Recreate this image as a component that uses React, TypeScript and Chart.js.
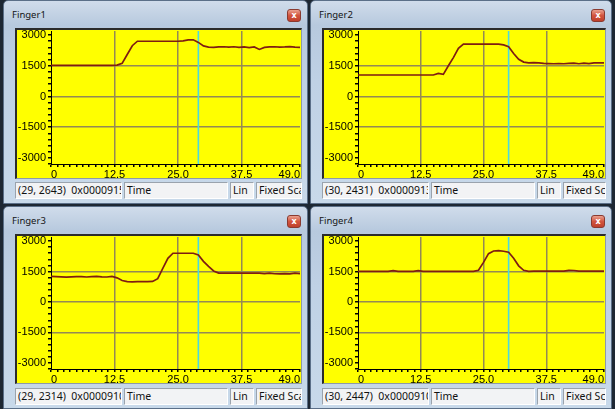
import React, { useEffect, useRef } from "react";
import { Chart, registerables } from "chart.js";
Chart.register(...registerables);

// ---------------- data ----------------
const times = [0, 1, 2, 3, 4, 5, 6, 7, 8, 9, 10, 11, 12, 13, 14, 15, 16, 17, 18, 19, 20, 21, 22, 23, 24, 25, 26, 27, 28, 29, 30, 31, 32, 33, 34, 35, 36, 37, 38, 39, 40, 41, 42, 43, 44, 45, 46, 47, 48, 49];

const finger1 = [1520, 1520, 1520, 1520, 1520, 1520, 1520, 1520, 1520, 1520, 1520, 1520, 1520, 1530, 1620, 2050, 2480, 2700, 2700, 2700, 2700, 2700, 2700, 2700, 2700, 2700, 2720, 2770, 2770, 2643, 2470, 2410, 2400, 2420, 2430, 2410, 2430, 2400, 2420, 2390, 2420, 2300, 2400, 2420, 2430, 2410, 2420, 2440, 2410, 2400];
const finger2 = [1050, 1050, 1050, 1050, 1050, 1050, 1050, 1050, 1050, 1050, 1050, 1050, 1050, 1050, 1050, 1050, 1130, 1080, 1500, 1900, 2350, 2560, 2560, 2560, 2560, 2560, 2560, 2560, 2560, 2520, 2431, 2100, 1820, 1680, 1640, 1650, 1640, 1620, 1610, 1600, 1610, 1600, 1620, 1630, 1600, 1630, 1610, 1640, 1640, 1640];
const finger3 = [1260, 1250, 1240, 1220, 1240, 1250, 1250, 1230, 1250, 1260, 1240, 1230, 1260, 1190, 1060, 1000, 990, 1000, 1000, 1000, 1010, 1150, 1650, 2150, 2400, 2400, 2400, 2400, 2400, 2314, 2000, 1750, 1530, 1420, 1420, 1420, 1420, 1420, 1420, 1420, 1420, 1420, 1400, 1420, 1390, 1380, 1400, 1380, 1420, 1400];
const finger4 = [1510, 1510, 1510, 1510, 1510, 1510, 1510, 1545, 1510, 1510, 1510, 1510, 1540, 1510, 1510, 1510, 1510, 1510, 1510, 1510, 1510, 1510, 1510, 1510, 1560, 1950, 2380, 2510, 2530, 2500, 2447, 2150, 1780, 1560, 1510, 1520, 1520, 1520, 1520, 1520, 1520, 1520, 1560, 1550, 1520, 1520, 1520, 1520, 1520, 1520];

const titles = ["Finger1", "Finger2", "Finger3", "Finger4"];
const cursorTimes = [29, 30, 29, 30];
const readouts = ["(29, 2643)", "(30, 2431)", "(29, 2314)", "(30, 2447)"];
const addresses = ["0x0000915C", "0x0000913A", "0x0000910C", "0x0000910C"];
const xTickLabels = [0, 12.5, 25, 37.5, 49];
const yTickLabels = [3000, 1500, 0, -1500, -3000];
const xGridValues = [12.5, 25, 37.5];
const yGridValues = [1500, 0, -1500];
const xMin = 0;
const xMax = 49;
const yMin = -3300;
const yMax = 3200;
const xStep = 1.25;
const yStep = 100;
const yMinorTick = 300;

const allSeries = [finger1, finger2, finger3, finger4];

const GRID = "#948a55";
const LINE = "#7e1d12";
const CURSOR = "#4ad8e2";
const near = (a: number, b: number) => Math.abs(a - b) < 1e-6;

type PanelProps = {
  idx: number;
  x: number;
  y: number;
  w: number;
  h: number;
  boxH: number;
};

function Panel({ idx, x, y, w, h, boxH }: PanelProps) {
  const ref = useRef<HTMLCanvasElement>(null);
  const boxL = 11;
  const boxT = 27;
  const boxW = w - 18;
  const cw = boxW - 3;
  const ch = boxH - 3;

  useEffect(() => {
    const series = allSeries[idx];
    const cur = cursorTimes[idx];
    const font = { family: "'Liberation Sans', Arial, sans-serif", size: 11 };
    const chart = new Chart(ref.current as HTMLCanvasElement, {
      type: "line",
      data: {
        datasets: [
          {
            data: times.map((t, i) => ({ x: t, y: series[i] })),
            borderColor: LINE,
            borderWidth: 1.7,
            pointRadius: 0,
            tension: 0,
          },
          {
            data: [
              { x: cur, y: yMin },
              { x: cur, y: yMax },
            ],
            borderColor: CURSOR,
            borderWidth: 1.6,
            pointRadius: 0,
          },
        ],
      },
      options: {
        animation: false,
        responsive: false,
        maintainAspectRatio: false,
        events: [],
        layout: { padding: { top: 1, right: 1, left: 0, bottom: 0 } },
        plugins: { legend: { display: false }, tooltip: { enabled: false } },
        scales: {
          x: {
            type: "linear",
            min: xMin,
            max: xMax,
            afterFit: (s: any) => {
              s.height = 14;
              s.paddingLeft = 0;
              s.paddingRight = 0;
            },
            ticks: {
              stepSize: xStep,
              autoSkip: false,
              maxRotation: 0,
              minRotation: 0,
              align: "inner",
              padding: 1,
              color: "#000",
              font,
              callback: (v: any) => {
                const n = Number(v);
                const m = xTickLabels.find((t) => near(t, n));
                if (m === undefined) return "";
                return m === 0 ? "0" : m.toFixed(1);
              },
            },
            grid: {
              color: (c: any) =>
                c.tick && xGridValues.some((g) => near(g, c.tick.value)) ? GRID : "rgba(0,0,0,0)",
              lineWidth: 1.5,
              tickColor: "#000",
              tickLength: 3,
            },
            border: { display: true, color: "#000", width: 1 },
          },
          y: {
            type: "linear",
            min: yMin,
            max: yMax,
            afterFit: (s: any) => {
              s.width = 34;
              s.paddingTop = 0;
              s.paddingBottom = 0;
            },
            ticks: {
              stepSize: yStep,
              autoSkip: false,
              padding: 2,
              color: "#000",
              font,
              callback: (v: any) => {
                const n = Number(v);
                const m = yTickLabels.find((t) => near(t, n));
                return m === undefined ? "" : String(m);
              },
            },
            grid: {
              color: (c: any) =>
                c.tick && yGridValues.some((g) => near(g, c.tick.value)) ? GRID : "rgba(0,0,0,0)",
              lineWidth: 1.5,
              tickColor: (c: any) =>
                c.tick && Math.abs(c.tick.value % yMinorTick) < 1e-6 ? "#000" : "rgba(0,0,0,0)",
              tickLength: 3,
            },
            border: { display: true, color: "#000", width: 1 },
          },
        },
      } as any,
    });
    return () => chart.destroy();
  }, [idx]);

  const uiFont = "'Noto Sans', 'Open Sans', sans-serif";
  const cellBase: React.CSSProperties = {
    position: "absolute",
    top: 181,
    height: 17,
    boxSizing: "border-box",
    background: "#f2f3f5",
    borderStyle: "solid",
    borderWidth: 1,
    borderColor: "#9aa3ad #ffffff #ffffff #9aa3ad",
    overflow: "hidden",
    whiteSpace: "pre",
    fontFamily: uiFont,
    fontSize: 10.5,
    lineHeight: "15px",
    color: "#111",
    paddingLeft: 2,
  };

  return (
    <div
      style={{
        position: "absolute",
        left: x,
        top: y,
        width: w,
        height: h,
        boxSizing: "border-box",
        border: "1px solid #5b6f88",
        borderRadius: "5px 5px 0 0",
        background: "linear-gradient(180deg,#d0dceb 0%,#b7c9de 12%,#bfd1e5 40%,#c8d9ea 100%)",
        overflow: "hidden",
      }}
    >
      <div
        style={{
          position: "absolute",
          left: 8,
          top: 7,
          fontFamily: uiFont,
          fontSize: 9.5,
          lineHeight: "14px",
          color: "#141414",
        }}
      >
        {titles[idx]}
      </div>
      <div
        style={{
          position: "absolute",
          right: 6,
          top: 8,
          width: 14,
          height: 13,
          boxSizing: "border-box",
          borderRadius: 3,
          border: "1px solid #8a3a30",
          background: "linear-gradient(180deg,#eaa08f 0%,#d2553f 50%,#c0402c 100%)",
          color: "#fff",
          fontFamily: "'DejaVu Sans', sans-serif",
          fontSize: 8,
          fontWeight: 700,
          lineHeight: "11px",
          textAlign: "center",
        }}
      >
        x
      </div>
      <div
        style={{
          position: "absolute",
          left: boxL,
          top: boxT,
          width: boxW,
          height: boxH,
          boxSizing: "border-box",
          borderStyle: "solid",
          borderWidth: "2px 1px 1px 2px",
          borderColor: "#2b2b2b #8d9aa8 #8d9aa8 #2b2b2b",
          background: "#ffff00",
        }}
      >
        <canvas
          ref={ref}
          width={cw}
          height={ch}
          style={{ display: "block", width: cw, height: ch, background: "#ffff00" }}
        />
      </div>
      <div style={{ ...cellBase, left: boxL, width: 107 }}>
        {readouts[idx] + "  " + addresses[idx]}
      </div>
      <div style={{ ...cellBase, left: boxL + 109, width: 104 }}>Time</div>
      <div style={{ ...cellBase, left: boxL + 215, width: 24 }}>Lin</div>
      <div style={{ ...cellBase, left: boxL + 241, width: boxW - 241 }}>Fixed Scale</div>
    </div>
  );
}

export default function App() {
  return (
    <div
      style={{
        position: "fixed",
        left: 0,
        top: 0,
        width: 615,
        height: 409,
        background: "#1d2733",
        overflow: "hidden",
      }}
    >
      <Panel idx={0} x={3} y={0} w={305} h={204} boxH={151} />
      <Panel idx={1} x={310} y={0} w={302} h={204} boxH={151} />
      <Panel idx={2} x={3} y={206} w={305} h={203} boxH={150} />
      <Panel idx={3} x={310} y={206} w={302} h={203} boxH={150} />
    </div>
  );
}
